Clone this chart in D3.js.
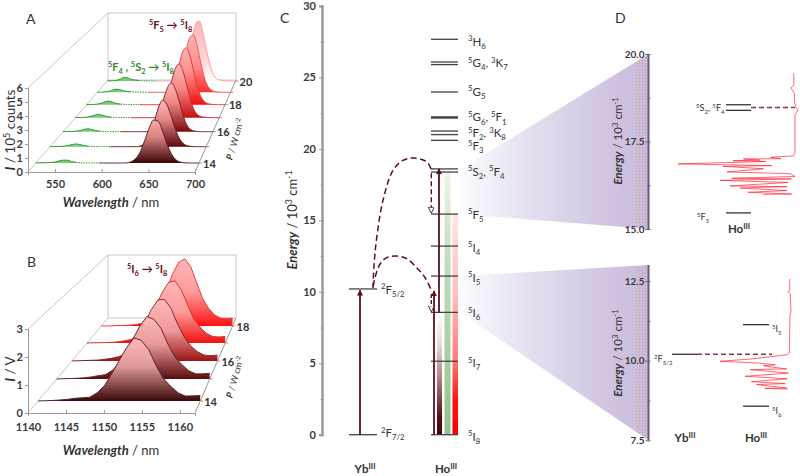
<!DOCTYPE html>
<html><head><meta charset="utf-8">
<style>html,body{margin:0;padding:0;background:#fff}svg{display:block}text{font-family:Lato,"Open Sans",sans-serif;fill:#333}</style>
<script src="https://cdnjs.cloudflare.com/ajax/libs/d3/7.8.5/d3.min.js"></script>
</head><body><svg id="c" width="800" height="476"></svg>
<script>
// ---------- Panel A data ----------
const powersA=[14,15,16,17,18,19,20];
const wavelengthsA=[521,525,530,535,540,545,550,555,560,565,570,575,580,585,590,595,600,605,610,615,620,625,630,635,640,645,650,655,660,665,670,675,680,685,690,695,700];
const spectrumA14=[.01,.01,.02,.03,.05,.12,.2,.21,.11,.04,.02,.01,.01,.01,0,0,0,0,0,0,0,.08,.29,.75,1.57,2.5,3.14,3.06,2.34,1.38,.64,.22,.06,.01,0,0,0];
const spectrumA15=[.01,.01,.02,.03,.06,.14,.21,.17,.08,.04,.02,.01,.01,.01,0,0,0,0,0,0,0,.07,.3,.8,1.8,2.95,3.55,3.2,2.3,1.25,.55,.18,.05,.01,0,0,0];
const spectrumA16=[.01,.01,.02,.03,.07,.16,.23,.18,.09,.04,.02,.01,.01,.01,0,0,0,0,0,0,0,.11,.42,1.15,2.35,3.4,3.88,3.4,2.35,1.15,.42,.11,.03,0,0,0,0];
const spectrumA17=[.01,.01,.02,.04,.1,.2,.27,.2,.1,.05,.03,.02,.01,.01,0,0,0,0,0,0,0,.15,.55,1.45,2.8,4,4.45,3.85,2.6,1.3,.5,.16,.05,.02,0,0,0];
const spectrumA18=[.01,.01,.02,.05,.12,.25,.31,.2,.1,.05,.03,.02,.01,.01,0,0,0,0,0,0,0,.2,.7,1.75,3.25,4.5,4.9,4.15,2.7,1.35,.55,.18,.06,.02,0,0,0];
const spectrumA19=[.01,.01,.03,.06,.15,.27,.26,.16,.08,.05,.03,.02,.01,.01,0,0,0,0,0,0,0,.25,.85,2.05,3.6,4.85,5.15,4.2,2.65,1.3,.5,.17,.05,.02,0,0,0];
const spectrumA20=[.01,.02,.03,.07,.2,.34,.28,.15,.08,.05,.03,.02,.01,.01,0,0,0,0,0,0,0,.3,1.05,2.4,4.1,5.4,5.55,4.4,2.75,1.35,.5,.16,.06,.03,0,0,0];
const seriesA=[spectrumA14,spectrumA15,spectrumA16,spectrumA17,spectrumA18,spectrumA19,spectrumA20];
const ticksAx=[550,600,650,700], ticksAy=[0,1,2,3,4,5,6], ticksAp=[14,16,18,20];
// ---------- Panel B data ----------
const powersB=[14,15,16,17,18];
const wavelengthsB=[1140,1141,1142,1143,1144,1145,1146,1147,1148,1149,1150,1151,1152,1153,1154,1155,1156,1157,1158,1159,1160,1161,1162];
const spectrumB14=[0,.01,.02,.04,.06,.1,.12,.14,.3,.56,1.01,1.49,1.96,2.32,2.23,1.9,1.31,.83,.54,.3,.18,.19,.2];
const spectrumB15=[0,.01,.02,.03,.05,.08,.13,.17,.33,.62,1.08,1.58,2.08,2.44,2.32,1.98,1.36,.86,.56,.32,.2,.2,.22];
const spectrumB16=[0,.01,.02,.03,.04,.07,.11,.17,.28,.6,1.05,1.55,2.1,2.5,2.52,2.15,1.5,.98,.6,.38,.24,.22,.24];
const spectrumB17=[0,.01,.01,.02,.03,.05,.1,.15,.3,.62,1.05,1.6,2.2,2.62,2.68,2.3,1.65,1.05,.68,.42,.28,.26,.28];
const spectrumB18=[0,0,.01,.02,.03,.04,.08,.12,.28,.6,1.1,1.7,2.4,2.9,3.05,2.7,1.95,1.25,.8,.5,.36,.34,.36];
const seriesB=[spectrumB14,spectrumB15,spectrumB16,spectrumB17,spectrumB18];
const ticksBx=[1140,1145,1150,1155,1160], ticksBy=[0,1,2,3], ticksBp=[14,16,18];
// ---------- Panel C data ----------
const ticksC=[0,5,10,15,20,25,30], minorC=[2.5,7.5,12.5,17.5,22.5,27.5];
const hoLevels=[27.67,26.08,25.9,23.98,22.2,21.25,21,20.6,18.6,18.38,15.44,13.2,11.1,8.56,5.14,0];
const ybLevels=[10.2,0];
const hoLabels=["^3H_6","^5G_4, ^3K_7","^5G_5","^5G_6, ^5F_1","^5F_2, ^3K_8","^5F_3","^5S_2, ^5F_4","^5F_5","^5I_4","^5I_5","^5I_6","^5I_7","^5I_8"];
const hoLabelEnergy=[27.5,26,24,22.2,21.1,20.2,18.4,15.4,13.1,11,8.5,5,-.15];
const ybLabels=["^2F_{5/2}","^2F_{7/2}"], ybLabelEnergy=[10.15,.1];
const transferHighE=[10.26,11.9,13.76,16.4,18.5,19.2,19.36,19.08,18.6];
const transferHighU=[22,23,25.4,31.2,40.4,49.5,59.6,71.6,75.2];
const transferLowE=[10.4,11,11.93,12.39,12.5,12.32,11.69,11,10.2];
const transferLowU=[22.3,23.9,28.4,34.6,43.8,52.9,62.1,69.7,75];
// ---------- Panel D data ----------
const ticksDtop=[15,17.5,20], minorDtop=[16.25,18.75];
const ticksDbot=[7.5,10,12.5], minorDbot=[8.75,11.25];
const specTopE=[19.45,19.12,19.03,18.88,18.61,18.47,18.41,18.26,17.17,17.09,17.05,17.01,17,16.97,16.95,16.93,16.86,16.81,16.79,16.74,16.72,16.63,16.58,16.5,16.45,16.43,16.39,16.33,16.23,16.21,16.17,16.1,16.05,16,15.99];
const specTopI=[1,1,3.4,.6,.3,-.9,-2.6,0,0,1.5,21,12,44,30,53,25,100,20,61.5,36,27,58,4,0,54,3,64,6,55.5,7,47,7,40,3,27];
const specBotE=[12.56,12.23,12.16,12.1,11.55,11.44,10.24,10.19,10.12,10.05,9.98,9.93,9.87,9.84,9.8,9.74,9.72,9.61,9.51,9.43,9.34,9.28,9.25,9.14,9.13,9.11];
const specBotI=[.4,.4,2.9,-.4,-1.4,0,1,3.9,28.6,57,100,47.6,21,38,26,4.7,57,2.4,64,3.9,55,7,47.6,4.7,36,2.9];

// ---------- helpers ----------
const svg=d3.select("#c");
const defs=svg.append("defs");
const MAROON="#5c0f1e", FRAME="#c8c8c8", LVL="#444";
function rich(sel,src,fs){
  const re=/\^\{([^}]*)\}|_\{([^}]*)\}|\^(.)|_(.)|\*([^*]*)\*|([^^_*]+)/g;let m,cur=0;
  sel.attr("font-size",fs);
  while((m=re.exec(src))){
    let kind=0,t;
    if(m[1]!==undefined||m[3]!==undefined){kind=1;t=m[1]??m[3];}
    else if(m[2]!==undefined||m[4]!==undefined){kind=-1;t=m[2]??m[4];}
    else if(m[5]!==undefined){kind=2;t=m[5];}
    else t=m[6];
    const target=kind===1?-.38*fs:kind===-1?.28*fs:0;
    const ts=sel.append("tspan").attr("dy",target-cur).text(t);
    cur=target;
    if(Math.abs(kind)===1)ts.attr("font-size",fs*.68);
    if(kind===2)ts.attr("font-style","italic").attr("font-weight",700);
  }
  return sel;
}
function label(x,y,src,fs,opt={}){
  const t=svg.append("text").attr("x",x).attr("y",y).attr("text-anchor",opt.anchor||"start");
  if(opt.color)t.style("fill",opt.color);
  if(opt.weight)t.attr("font-weight",opt.weight);
  if(opt.rotate!==undefined)t.attr("transform",`rotate(${opt.rotate} ${x} ${y})`);
  return rich(t,src,fs);
}
function gradient(id,stops,horizontal){
  const g=defs.append("linearGradient").attr("id",id).attr("x1",0).attr("y1",0).attr("x2",horizontal?1:0).attr("y2",horizontal?0:1);
  stops.forEach(s=>g.append("stop").attr("offset",s[0]).attr("stop-color",s[1]));
}
function seg(g,a,b,color,w,dash){
  const l=g.append("line").attr("x1",a[0]).attr("y1",a[1]).attr("x2",b[0]).attr("y2",b[1]).attr("stroke",color).attr("stroke-width",w);
  if(dash)l.attr("stroke-dasharray",dash);
  return l;
}
function styleAxis(g,color,w,fs,ext){
  g.select(".domain").attr("stroke",color).attr("stroke-width",w);
  g.selectAll(".tick line").attr("stroke",color).attr("stroke-width",1);
  if(ext)g.selectAll(".tick line").attr("x1",ext);
  g.selectAll("text").attr("font-size",fs).attr("font-family","Lato").attr("font-weight",700).style("fill","#3a3a3a");
}

// ---------- 3D waterfall ----------
function waterfall(cfg){
  const {ox,xFront,topBack,backX,backY,yFront,yTopFront,powers,series,wl,baseRange,colors}=cfg;
  const g=svg.append("g");
  const baseY=d3.scaleLinear().domain(powers).range(baseRange);
  const edgeL=d3.scaleLinear().domain([yFront,backY]).range([ox,backX[0]]);
  const edgeR=d3.scaleLinear().domain([yFront,backY]).range([xFront,backX[1]]);
  const xF=d3.scaleLinear().domain(cfg.xDomain).range([ox,xFront]);
  const yF=d3.scaleLinear().domain(cfg.yDomain).range([yFront,yTopFront]);
  seg(g,[ox,yTopFront],[backX[0],topBack],FRAME,1);
  seg(g,[backX[0],topBack],[backX[1],topBack],FRAME,1);
  seg(g,[backX[0],topBack],[backX[0],backY],FRAME,1);
  seg(g,[backX[1],topBack],[backX[1],backY],FRAME,1);
  seg(g,[backX[0],backY],[backX[1],backY],FRAME,1);
  seg(g,[ox,yFront],[backX[0],backY],FRAME,1);
  seg(g,[xFront,yFront],[backX[1],backY],"#9a9a9a",1);
  const ax=g.append("g").attr("transform",`translate(${ox},0)`).call(d3.axisLeft(yF).tickValues(cfg.ticksY).tickSize(3).tickFormat(d3.format("d")));
  styleAxis(ax,"#9a9a9a",1,11);
  ax.selectAll("text").attr("x",-5);
  const bx=g.append("g").attr("transform",`translate(0,${yFront})`).call(d3.axisBottom(xF).tickValues(cfg.ticksX).tickSize(3));
  styleAxis(bx,"#9a9a9a",1,11);
  bx.selectAll(".tick line").attr("y1",-3).attr("y2",0);
  bx.selectAll("text").attr("y",cfg.tickLabelDy);
  bx.selectAll(".tick text").text(d=>d);
  powers.forEach(p=>{
    const y=baseY(p),xr=edgeR(y);
    seg(g,[xr,y],[xr+3,y],"#9a9a9a",1);
  });
  cfg.ticksP.forEach(p=>{
    const y=baseY(p);
    g.append("text").attr("x",edgeR(y)+4).attr("y",y+4.5).attr("font-size",11).attr("font-weight",700).text(p);
  });
  const idx=powers.map((_,i)=>i).reverse();
  idx.forEach(i=>{
    const p=powers[i],vals=series[i],by=baseY(p),L=edgeL(by),R=edgeR(by),f=(R-L)/(xFront-ox);
    const x=d3.scaleLinear().domain(cfg.xDomain).range([L,R]);
    const unit=(yFront-yTopFront)/(cfg.yDomain[1]-cfg.yDomain[0])*f;
    const y=v=>by-v*unit;
    const pts=wl.map((w,k)=>[w,vals[k]]);
    const area=d3.area().x(d=>x(d[0])).y0(by).y1(d=>y(d[1])).curve(cfg.curve);
    const line=d3.line().x(d=>x(d[0])).y(d=>y(d[1])).curve(cfg.curve);
    const gid=cfg.id+"g"+p;
    gradient(gid,colors.stops[i]);
    if(cfg.greenSplit){
      const gr=pts.filter(d=>d[0]<=cfg.greenSplit);
      const solid=gr.filter(d=>d[0]<=565),dotted=gr.filter(d=>d[0]>=565);
      g.append("path").attr("d",area(solid)).attr("fill","#7ec87e");
      g.append("path").attr("d",line(solid)).attr("fill","none").attr("stroke","#2f9a2f").attr("stroke-width",1);
      g.append("path").attr("d",line(dotted)).attr("fill","none").attr("stroke","#2f9a2f").attr("stroke-width",1).attr("stroke-dasharray","1.5 1");
      const rd=pts.filter(d=>d[0]>=cfg.greenSplit);
      g.append("path").attr("d",area(rd)).attr("fill",`url(#${gid})`);
      g.append("path").attr("d",line(rd)).attr("fill","none").attr("stroke",colors.stroke[i]).attr("stroke-width",.9);
    }else{
      g.append("path").attr("d",area(pts)).attr("fill",`url(#${gid})`);
      g.append("path").attr("d",line(pts)).attr("fill","none").attr("stroke",colors.stroke[i]).attr("stroke-width",.9);
    }
  });
}
const topPink="#ffb4b4";
waterfall({id:"a",ox:28,xFront:195,yFront:172,yTopFront:88,topBack:13,backY:80,backX:[108,236],
  powers:powersA,series:seriesA,wl:wavelengthsA,baseRange:[163,146.7,131.7,117.7,104.7,92.3,81],
  xDomain:[521,700],yDomain:[0,6],ticksX:ticksAx,ticksY:ticksAy,ticksP:ticksAp,tickLabelDy:8,
  curve:d3.curveMonotoneX,greenSplit:590,
  colors:{stroke:["#4a2020","#5e1a1a","#7a2020","#b02a2a","#e83030","#f05050","#ff9a9a"],
    stops:[[[0,"#f7a8a8"],[.4,"#d98080"],[1,"#3a0606"]],[[0,topPink],[.4,"#e88a8a"],[1,"#5a0808"]],[[0,topPink],[.4,"#f08888"],[1,"#7a0a0a"]],[[0,topPink],[.45,"#f88888"],[1,"#c81010"]],[[0,topPink],[.45,"#ff8a8a"],[1,"#f50f0f"]],[[0,topPink],[.5,"#ff9090"],[1,"#ff3030"]],[[0,"#ffb8b8"],[.6,"#ffd0d0"],[1,"#ffffff"]]]}});
waterfall({id:"b",ox:28,xFront:195,yFront:413,yTopFront:329,topBack:255,backY:318,backX:[108,236],
  powers:powersB,series:seriesB,wl:wavelengthsB,baseRange:[401,379,361,343,326],
  xDomain:[1140,1162],yDomain:[0,3],ticksX:ticksBx,ticksY:ticksBy,ticksP:ticksBp,tickLabelDy:10,
  curve:d3.curveLinear,
  colors:{stroke:["#4a2020","#5e1a1a","#7a2020","#d02a2a","#f03030"],
    stops:[[[0,"#ffb8b8"],[.45,"#e09a9a"],[1,"#3a0808"]],[[0,"#ffb8b8"],[.45,"#e89a9a"],[1,"#5a0c0c"]],[[0,"#ffb8b8"],[.5,"#f09a9a"],[1,"#9a1515"]],[[0,"#ffb8b8"],[.5,"#ff9a9a"],[1,"#ee1111"]],[[0,"#ffb8b8"],[.5,"#ff9a9a"],[1,"#ff1111"]]]}});

// panel text
label(26,24,"A",14);
label(27,267,"B",14);
label(280,23,"C",14);
label(615,23,"D",14);
label(111,207,"*Wavelength* / nm",13,{anchor:"middle"});
label(111,455,"*Wavelength* / nm",13,{anchor:"middle"});
label(15,130,"*I* / 10^5 counts",13.5,{anchor:"middle",rotate:-90});
label(15,369,"*I* / V",13.5,{anchor:"middle",rotate:-90});
label(238,140,"*P* / W cm^{-2}",9,{anchor:"middle",rotate:-74});
label(238,378,"*P* / W cm^{-2}",9,{anchor:"middle",rotate:-74});
label(149,29,"^5F_5 → ^5I_8",11,{color:"#6a1020",weight:700});
label(108,71,"^5F_4 , ^5S_2 → ^5I_8",11,{color:"#2e8b2e",weight:700});
label(127,273,"^5I_6 → ^5I_8",11,{color:"#6a1020",weight:700});

// ---------- Panel D scales (needed for the wedges) ----------
const yD1=d3.scaleLinear().domain([15,20]).range([229,54]);
const yD2=d3.scaleLinear().domain([7.5,12.5]).range([440.3,281]);
const yC=d3.scaleLinear().domain([0,30]).range([434.7,6]);
const XD=648.5,XW=460;

gradient("wedge",[[0,"#fcfbfe"],[.35,"#e6e0f0"],[.75,"#d2c6e2"],[1,"#c9bbdd"]],true);
const pat=defs.append("pattern").attr("id","dots").attr("patternUnits","userSpaceOnUse").attr("width",3).attr("height",3);
pat.append("rect").attr("x",0).attr("y",0).attr("width",1).attr("height",1).attr("fill","#d8a070");
const wedges=[[[XW,yC(18.55)],[XD,yD1(20)],[XD,yD1(15)],[XW,yC(15.44)]],[[XW,yC(11.1)],[XD,yD2(13)],[XD,yD2(7.5)],[XW,yC(8.56)]]];
wedges.forEach((w,i)=>{
  svg.append("polygon").attr("points",w.join(" ")).attr("fill","url(#wedge)");
  const cid="wc"+i;
  defs.append("clipPath").attr("id",cid).append("polygon").attr("points",w.join(" "));
  svg.append("rect").attr("x",XD-12).attr("y",40).attr("width",12).attr("height",410).attr("fill","url(#dots)").attr("clip-path",`url(#${cid})`);
});

// ---------- Panel C ----------
const gC=svg.append("g");
const axC=gC.append("g").attr("transform","translate(322,0)").call(d3.axisLeft(yC).tickValues(ticksC).tickSize(3));
styleAxis(axC,"#9a9a9a",2,11,2);
axC.selectAll("text").attr("x",-6);
const axCm=gC.append("g").attr("transform","translate(322,0)").call(d3.axisLeft(yC).tickValues(minorC).tickSize(1.5).tickFormat(""));
styleAxis(axCm,"#9a9a9a",2,11,1.5);
label(297,220,"*Energy* / 10^3 cm^{-1}",13,{anchor:"middle",rotate:-90});

gradient("emMar",[[0,"#ffffff"],[.25,"#e9dede"],[.55,"#b07a80"],[.85,"#5a0f14"],[1,"#3a0508"]]);
gradient("emGrn",[[0,"#eef5ea"],[.35,"#c2dcbb"],[1,"#94c28c"]]);
gradient("emRed",[[0,"#fde6e6"],[.35,"#ffc0c0"],[.65,"#ff8080"],[.85,"#ff1010"],[1,"#ff0000"]]);
const blur=defs.append("filter").attr("id","soft").attr("x","-30%").attr("width","160%");
blur.append("feGaussianBlur").attr("stdDeviation","0.6 0");
[[437,5,8.56,"emMar"],[444.5,6,18.38,"emGrn"],[452.5,5.5,15.44,"emRed"]].forEach(b=>{
  gC.append("rect").attr("x",b[0]).attr("width",b[1]).attr("y",yC(b[2])).attr("height",yC(0)-yC(b[2])).attr("fill",`url(#${b[3]})`).attr("filter","url(#soft)");
});
const xHo=[431,458],xYb=[349,377];
hoLevels.forEach(e=>seg(gC,[xHo[0],yC(e)],[xHo[1],yC(e)],LVL,e===22.2?2.5:1.3));
ybLevels.forEach(e=>seg(gC,[xYb[0],yC(e)],[xYb[1],yC(e)],LVL,1.3));
hoLabels.forEach((s,i)=>label(468,yC(hoLabelEnergy[i])+4,s,11.5));
ybLabels.forEach((s,i)=>label(381,yC(ybLabelEnergy[i])+4,s,11.5));
label(365,473,"Yb^{III}",11.5,{anchor:"middle",weight:700});
label(446,473,"Ho^{III}",11.5,{anchor:"middle",weight:700});
const mk=(id,open)=>{const m=defs.append("marker").attr("id",id).attr("viewBox","0 0 8 8").attr("refX",7).attr("refY",4).attr("markerWidth",6).attr("markerHeight",6).attr("markerUnits","userSpaceOnUse").attr("orient","auto");
  m.append("path").attr("d","M0,0L8,4L0,8Z").attr("fill",open?"#fff":MAROON).attr("stroke",MAROON).attr("stroke-width",open?1.2:0);};
mk("ah",false);mk("aho",true);
const ua=(x,e0,e1)=>seg(gC,[x,yC(e0)],[x,yC(e1)],MAROON,1.8).attr("marker-end","url(#ah)");
ua(360,0,10.1);ua(434,0,10.05);ua(439,8.56,18.6);
seg(gC,[431.3,yC(18.3)],[431.3,yC(15.55)],MAROON,1.4,"5 3").attr("marker-end","url(#aho)");
seg(gC,[431.3,yC(9.85)],[431.3,yC(8.65)],MAROON,1.4,"4 2").attr("marker-end","url(#aho)");
const xU=d3.scaleLinear().domain([0,100]).range([349,458]);
const tl=d3.line().x(d=>xU(d[0])).y(d=>yC(d[1])).curve(d3.curveCatmullRom);
gC.append("path").attr("d",tl(transferHighU.map((u,i)=>[u,transferHighE[i]]))).attr("fill","none").attr("stroke",MAROON).attr("stroke-width",1.5).attr("stroke-dasharray","6 3.5");
gC.append("path").attr("d",tl(transferLowU.map((u,i)=>[u,transferLowE[i]]))).attr("fill","none").attr("stroke",MAROON).attr("stroke-width",1.5).attr("stroke-dasharray","6 3.5");

// ---------- Panel D ----------
const gD=svg.append("g");
function axisD(scale,ticks,minor,domainTop){
  const a=gD.append("g").attr("transform",`translate(${XD},0)`).call(d3.axisLeft(scale).tickValues(ticks).tickSize(3).tickFormat(d3.format(".1f")));
  styleAxis(a,"#6a5c78",1.6,10,2);
  a.selectAll("text").attr("x",-4);
  const m=gD.append("g").attr("transform",`translate(${XD},0)`).call(d3.axisLeft(scale).tickValues(minor).tickSize(1).tickFormat(""));
  styleAxis(m,"#6a5c78",1.6,10,2);
  a.select(".domain").attr("d",`M0,${scale(domainTop[1])}L0,${scale(domainTop[0])}`);
  m.select(".domain").attr("d",`M0,${scale(domainTop[1])}L0,${scale(domainTop[0])}`);
}
axisD(yD1,ticksDtop,minorDtop,[15,20]);
axisD(yD2,ticksDbot,minorDbot,[7.5,13]);
label(622,141,"*Energy* / 10^3 cm^{-1}",11.5,{anchor:"middle",rotate:-90});
label(622,353,"*Energy* / 10^3 cm^{-1}",11.5,{anchor:"middle",rotate:-90});
[18.55,18.39,15.46].forEach(e=>seg(gD,[726,yD1(e)],[751,yD1(e)],"#333",1.3));
seg(gD,[751,yD1(18.47)],[795,yD1(18.47)],"#8a3a4a",1.4,"5 3");
label(696,111,"^5S_2, ^5F_4",9);
label(697,220,"^5F_5",9);
label(739,233,"Ho^{III}",11.5,{anchor:"middle",weight:700});
seg(gD,[672,yD2(10.2)],[697,yD2(10.2)],"#333",1.3);
seg(gD,[697,yD2(10.2)],[772,yD2(10.2)],"#8a3a4a",1.4,"5 3");
[11.13,8.57].forEach(e=>seg(gD,[743,yD2(e)],[769,yD2(e)],"#333",1.3));
label(654,362,"^2F_{5/2}",9);
label(772,332,"^5I_5",9);
label(772,414,"^5I_6",9);
label(685,442,"Yb^{III}",11.5,{anchor:"middle",weight:700});
label(756,442,"Ho^{III}",11.5,{anchor:"middle",weight:700});
const xS1=d3.scaleLinear().domain([0,100]).range([795,678]);
const xS2=d3.scaleLinear().domain([0,100]).range([790,720]);
gD.append("path").attr("d",d3.line().x(d=>xS1(d[1])).y(d=>yD1(d[0]))(specTopE.map((e,i)=>[e,specTopI[i]]))).attr("fill","none").attr("stroke","#ff2a3a").attr("stroke-width",.8).attr("opacity",.9);
gD.append("path").attr("d",d3.line().x(d=>xS2(d[1])).y(d=>yD2(d[0]))(specBotE.map((e,i)=>[e,specBotI[i]]))).attr("fill","none").attr("stroke","#ff2a3a").attr("stroke-width",.8).attr("opacity",.9);
</script></body></html>
